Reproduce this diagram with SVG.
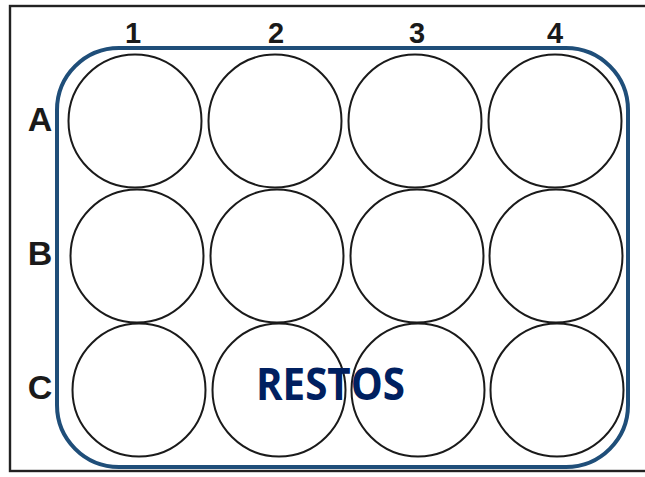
<svg xmlns="http://www.w3.org/2000/svg" width="645" height="477" viewBox="0 0 645 477">
<style>
.well{fill:none;stroke:#1a1a1a;stroke-width:2}
.lbl{font-family:"Liberation Sans",Arial,sans-serif;font-weight:bold;fill:#1a1a1a;text-anchor:middle}
.col{font-size:29px}
.row{font-size:34px}
</style>
<rect x="10" y="6" width="640" height="465" fill="#fff" stroke="#222" stroke-width="2.4"/>
<g id="labels">
<text class="lbl col" x="133" y="43">1</text>
<text class="lbl col" x="276" y="43">2</text>
<text class="lbl col" x="417" y="43">3</text>
<text class="lbl col" x="555" y="43">4</text>
<text class="lbl row" x="40" y="131">A</text>
<text class="lbl row" x="40" y="265">B</text>
<text class="lbl row" x="40" y="399">C</text>
</g>
<g id="region">
<rect x="57" y="48" width="571" height="419" rx="62" ry="62" fill="none" stroke="#1f4e79" stroke-width="4"/>
</g>
<g id="wells">
<g id="A1"><circle class="well" cx="135" cy="121" r="66.5"/></g>
<g id="A2"><circle class="well" cx="275" cy="121" r="66.5"/></g>
<g id="A3"><circle class="well" cx="415" cy="121" r="66.5"/></g>
<g id="A4"><circle class="well" cx="555" cy="121" r="66.5"/></g>
<g id="B1"><circle class="well" cx="137" cy="256" r="66.5"/></g>
<g id="B2"><circle class="well" cx="277" cy="256" r="66.5"/></g>
<g id="B3"><circle class="well" cx="417" cy="256" r="66.5"/></g>
<g id="B4"><circle class="well" cx="556" cy="256" r="66.5"/></g>
<g id="C1"><circle class="well" cx="139" cy="390" r="66.5"/></g>
<g id="C2"><circle class="well" cx="279" cy="390" r="66.5"/></g>
<g id="C3"><circle class="well" cx="418" cy="390" r="66.5"/></g>
<g id="C4"><circle class="well" cx="557" cy="390" r="66.5"/></g>
</g>
<g id="restos">
<text x="256" y="400" font-family="'Open Sans','Liberation Sans',sans-serif" font-weight="bold" font-size="44" fill="#002060" textLength="149" lengthAdjust="spacingAndGlyphs">RESTOS</text>
</g>
</svg>
